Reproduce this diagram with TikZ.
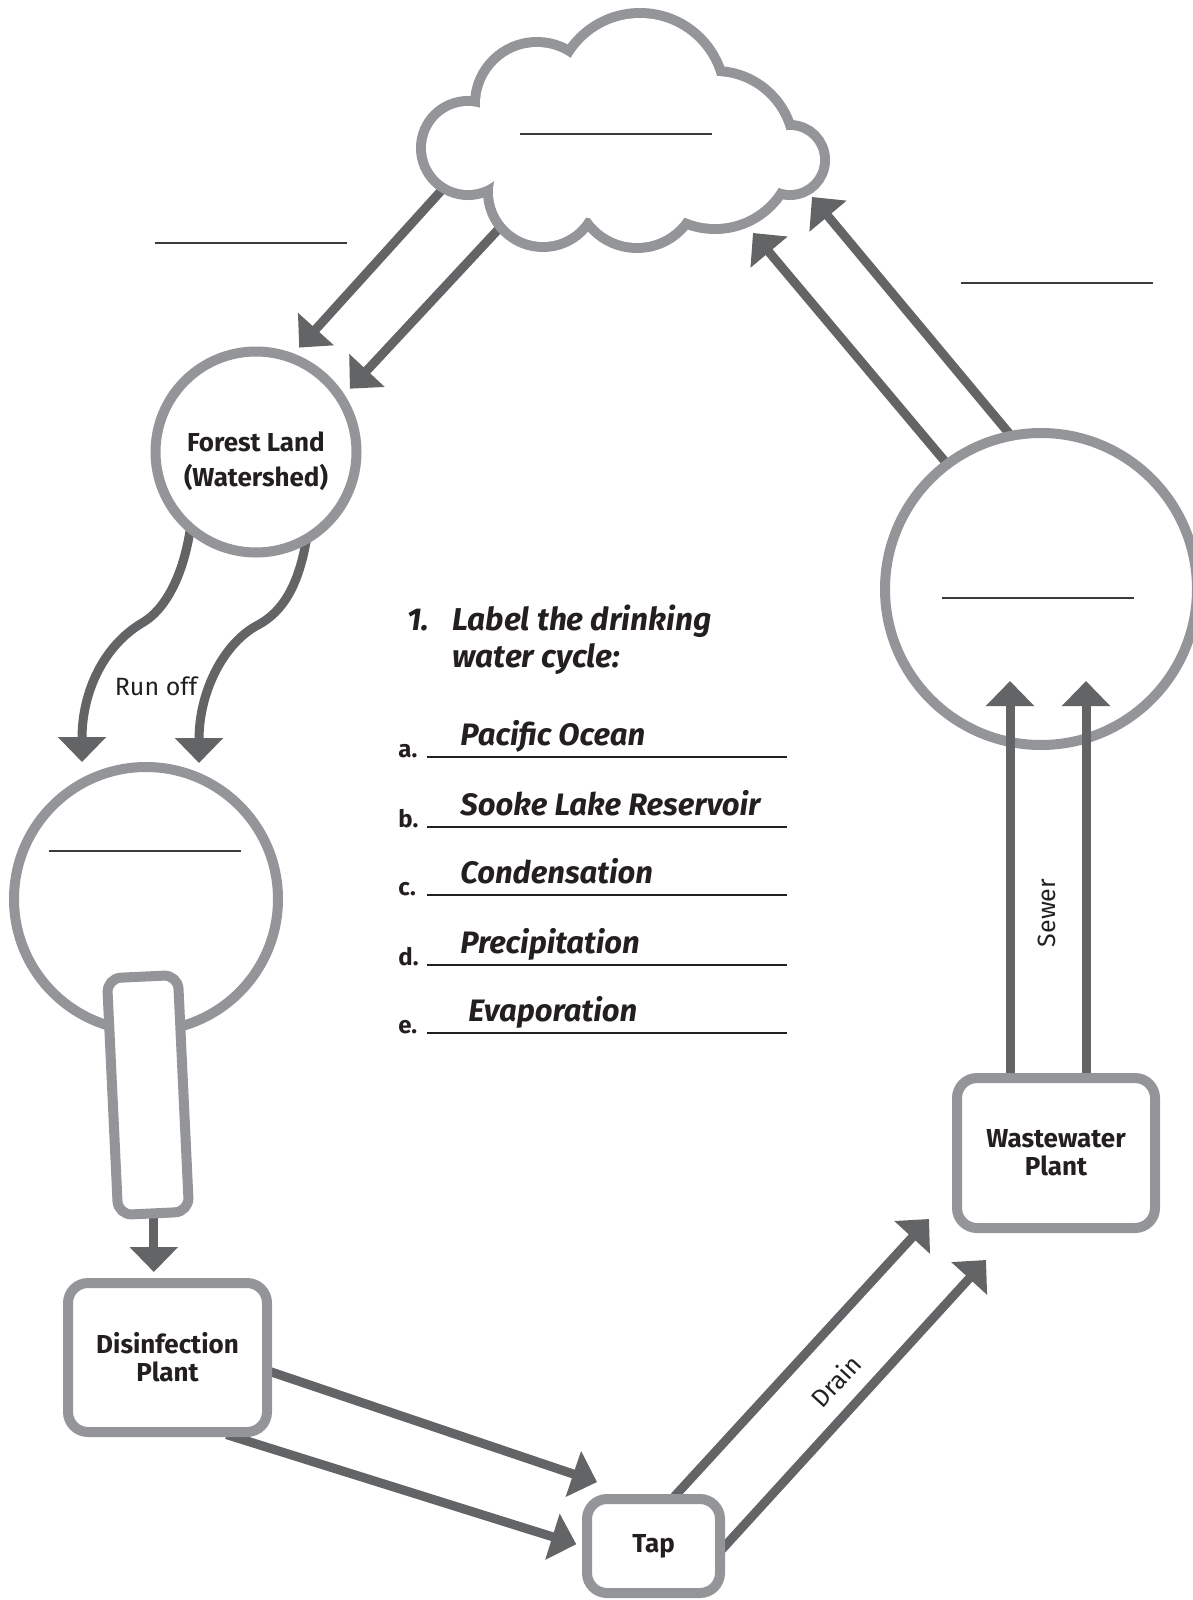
\documentclass[tikz,border=0pt]{standalone}
\usepackage{fontspec}
\setmainfont{Fira Sans}
\usetikzlibrary{arrows.meta}
\definecolor{rimgray}{HTML}{939598}
\definecolor{flowgray}{HTML}{636466}
\definecolor{inkgray}{HTML}{3C3C3E}
\definecolor{textblack}{HTML}{231F20}
\pgfdeclarelayer{back}
\pgfsetlayers{back,main}

\begin{document}
\begin{tikzpicture}[x=0.5pt, y=-0.5pt,
      ring/.style={draw=rimgray, line width=5pt, fill=white, circle, inner sep=0pt},
      plantbox/.style={draw=rimgray, line width=5pt, fill=white, rectangle,
        rounded corners=10pt, inner sep=0pt, align=center, text=textblack,
        font=\bfseries\fontsize{13}{14}\selectfont},
      plantlabel/.style={align=center, text=textblack, inner sep=0pt,
        font=\bfseries\fontsize{13}{14}\selectfont},
      pipe/.style={draw=rimgray, line width=5pt, fill=white, rectangle,
        rounded corners=7pt, inner sep=0pt},
      flow/.style={draw=flowgray, line width=4.5pt,
        -{Triangle[length=12.5pt, width=23.5pt]}},
      pathlabel/.style={text=textblack, inner sep=0pt, font=\fontsize{12.5}{14}\selectfont},
      blank/.style={draw=inkgray, line width=1pt},
      answerline/.style={draw=textblack, line width=0.7pt},
      qtext/.style={text=textblack, inner sep=0pt, align=left,
        font=\bfseries\itshape\fontsize{15.8}{18.5}\selectfont},
      itemltr/.style={text=textblack, inner sep=0pt, font=\bfseries\fontsize{12}{14}\selectfont},
      answertext/.style={text=textblack, inner sep=0pt,
        font=\bfseries\itshape\fontsize{15.5}{17}\selectfont},]
    \useasboundingbox (0,0) rectangle (1193,1600);

    % cloud
    \def\puffs{468/148/52, 537/104/67, 640/98/90, 715/150/84, 790/160/40, 637/186/67, 543/192/60}
    \foreach \cx/\cy/\cr in \puffs
      \draw[rimgray, line width=10pt] (\cx,\cy) circle[radius={(\cr-10)*0.5pt}];
    \foreach \cx/\cy/\cr in \puffs
      \fill[white] (\cx,\cy) circle[radius={(\cr-10)*0.5pt}];
    \fill[white] (620,160) ellipse[x radius=60pt, y radius=30pt];

    \node[ring, minimum size=100.5pt] (forest) at (256,452) {};
    \node[plantlabel] (forestlbl) at (256,461) {Forest Land\\[3.5pt](Watershed)};
    \node[ring, minimum size=132pt] (lake) at (146,899) {};
    \node[ring, minimum size=156pt] (sea) at (1041,589) {};
    \node[pipe, minimum width=35.5pt, minimum height=118.5pt, rotate=2.7] (pipe) at (148,1095) {};
    \node[plantbox, minimum width=99.5pt, minimum height=74.5pt] (disinf) at (167.5,1357.5) {Disinfection\\Plant};
    \node[plantbox, minimum width=66.5pt, minimum height=47pt] (tap) at (653.5,1546) {Tap};
    \node[plantbox, minimum width=99pt, minimum height=75pt] (waste) at (1056,1153) {Wastewater\\Plant};

    \coordinate (cloudA) at (450,181);
    \coordinate (cloudB) at (508,219);
    \coordinate (cloudC) at (753,233);
    \coordinate (cloudD) at (812,197);
    \coordinate (runA) at (82,762);
    \coordinate (runB) at (199,763);
    \coordinate (tapin) at (597,1482);
    \coordinate (drainA) at (929,1219);
    \coordinate (drainB) at (986,1260);
    \coordinate (sewerA) at (1010,681);
    \coordinate (sewerB) at (1086,681);

    \begin{pgfonlayer}{back}
      \draw[flow, shorten >=4pt] (cloudA) -- (forest.69);
      \draw[flow, shorten >=4pt] (cloudB) -- (forest.33);
      \draw[flow, shorten <=-4pt] (sea.127) -- (cloudC);
      \draw[flow, shorten <=-4pt] (sea.102) -- (cloudD);
      \draw[flow, shorten <=-4pt] (forest.231) .. controls +(-6,42) and +(23,-13) .. (142,623)
        .. controls +(-37,22) and +(0,-72) .. (runA);
      \draw[flow, shorten <=-4pt] (forest.-62) .. controls +(-7,42) and +(24,-13) .. (258,625)
        .. controls +(-33,17) and +(0,-73) .. (runB);
      \draw[flow, shorten <=-4pt, shorten >=3pt] (pipe.south) -- (pipe.south |- disinf.north);
      \draw[flow, shorten <=-4pt] (disinf.-8) -- (tapin);
      \draw[flow, shorten <=-4pt, shorten >=3pt] (disinf.-50) -- (tap.west);
      \draw[flow, shorten <=-4pt] (tap.66) -- (drainA);
      \draw[flow, shorten <=-4pt] (tap.east) -- (drainB);
    \end{pgfonlayer}
    \draw[flow] (waste.north -| sewerA) -- (sewerA);
    \draw[flow] (waste.north -| sewerB) -- (sewerB);

    \node[pathlabel, anchor=base] (runofflbl) at (156,695) {Run off};
    \node[pathlabel, rotate=47.7] (drainlbl) at (836,1381) {Drain};
    \node[pathlabel, rotate=90] (sewerlbl) at (1047,913) {Sewer};

    % blanks to fill in
    \foreach \bx/\by in {520/134, 155/243, 961/283, 942/598, 49/851}
      \draw[blank] (\bx,\by) -- ++(192,0);

    \node[qtext, anchor=base west] (qnum) at (407,630) {1.};
    \node[qtext, anchor=base west] (qtitle) at (452,667) {Label the drinking\\water cycle:};
    \foreach \ltr/\ans/\ly/\ax in {a/Pacific Ocean/757/460, b/Sooke Lake Reservoir/827/460,
        c/Condensation/895/460, d/Precipitation/965/460, e/Evaporation/1033/468} {
      \node[itemltr, anchor=base west] (ltr\ltr) at (398,\ly) {\ltr.};
      \draw[answerline] (427,\ly) -- (787,\ly);
      \node[answertext, anchor=base west] (ans\ltr) at (\ax,\ly-12) {\ans};
    }
\end{tikzpicture}
\end{document}
